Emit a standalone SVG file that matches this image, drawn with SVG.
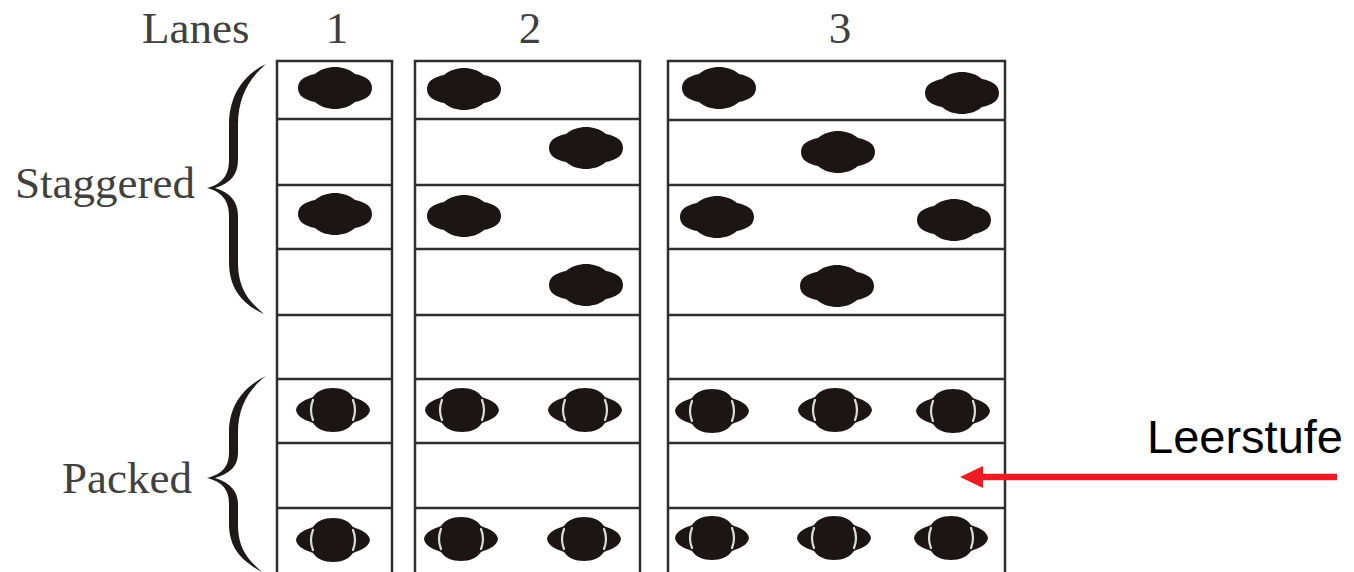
<svg xmlns="http://www.w3.org/2000/svg" width="1354" height="572" viewBox="0 0 1354 572">
<style>
.lbl{font-family:"Liberation Serif","Times New Roman",serif;font-size:45px;fill:#404040}
.grid{fill:none;stroke:#2e2e2e;stroke-width:2.5}
.blob{fill:#1b1515}
.hl{fill:none;stroke:#dcdcdc;stroke-width:2.2;stroke-linecap:round}
.brace{fill:#1e1a1a}
.red{font-family:"Liberation Sans",Arial,sans-serif;font-size:47px;fill:#000}
</style>
<defs>
<path id="sblob" class="blob" d="M -37 0 C -37 -8 -30 -12 -20 -14 C -14 -19 -7 -21 0 -21 C 7 -21 14 -19 20 -14 C 30 -12 37 -8 37 0 C 37 8 30 12 20 14 C 14 19 7 21 0 21 C -7 21 -14 19 -20 14 C -30 12 -37 8 -37 0 Z"/>
<g id="pblob">
<path class="blob" d="M -37 0 C -36 -7 -28 -10 -20 -13 C -16 -19 -9 -22 0 -22 C 9 -22 16 -19 20 -13 C 28 -10 36 -7 37 0 C 36 7 28 10 20 13 C 16 19 9 22 0 22 C -9 22 -16 19 -20 13 C -28 10 -36 7 -37 0 Z"/>
<path class="hl" d="M -20 -10 Q -24 0 -20 10 M 20 -10 Q 24 0 20 10"/>
</g>
</defs>

<g id="labels">
<text class="lbl" x="142" y="43">Lanes</text>
<text class="lbl" x="337" y="43" text-anchor="middle">1</text>
<text class="lbl" x="530" y="43" text-anchor="middle">2</text>
<text class="lbl" x="840" y="43" text-anchor="middle">3</text>
<text class="lbl" x="15" y="198">Staggered</text>
<text class="lbl" x="62" y="493">Packed</text>
</g>

<g id="brace-staggered">
<path class="brace" d="M 266 64 C 245 74 229 94 229 125 L 229 160 C 229 174 223 184 207 188 C 223 192 229 202 229 216 L 229 262 C 229 290 244 305 264 314 C 250 302 238 290 238 262 L 238 216 C 238 202 231 193 215 188 C 231 183 238 174 238 160 L 238 125 C 238 96 250 78 266 64 Z"/>
</g>
<g id="brace-packed">
<path class="brace" d="M 266 376 C 245 386 229 404 229 432 L 229 452 C 229 466 223 474 207 478 C 223 482 229 490 229 504 L 229 524 C 229 550 244 562 262 572 C 249 560 238 550 238 524 L 238 504 C 238 492 231 483 215 478 C 231 473 238 466 238 452 L 238 432 C 238 406 250 388 266 376 Z"/>
</g>

<g id="lane1">
<path class="grid" d="M 277 572 L 277 61 L 392 61 L 392 572 M 277 119 H 392 M 277 185 H 392 M 277 249 H 392 M 277 315 H 392 M 277 379 H 392 M 277 443 H 392 M 277 508 H 392"/>
<use href="#sblob" x="335" y="88"/>
<use href="#sblob" x="335" y="214"/>
<use href="#pblob" x="333" y="410"/>
<use href="#pblob" x="333" y="540"/>
</g>

<g id="lane2">
<path class="grid" d="M 415 572 L 415 61 L 640 61 L 640 572 M 415 119 H 640 M 415 185 H 640 M 415 249 H 640 M 415 315 H 640 M 415 379 H 640 M 415 443 H 640 M 415 508 H 640"/>
<use href="#sblob" x="464" y="89"/>
<use href="#sblob" x="586" y="148"/>
<use href="#sblob" x="464" y="216"/>
<use href="#sblob" x="586" y="285"/>
<use href="#pblob" x="462" y="410"/>
<use href="#pblob" x="585" y="410"/>
<use href="#pblob" x="461" y="539"/>
<use href="#pblob" x="584" y="539"/>
</g>

<g id="lane3">
<path class="grid" d="M 668 572 L 668 61 L 1005 61 L 1005 572 M 668 120 H 1005 M 668 185 H 1005 M 668 249 H 1005 M 668 315 H 1005 M 668 379 H 1005 M 668 443 H 1005 M 668 508 H 1005"/>
<use href="#sblob" x="719" y="88"/>
<use href="#sblob" x="962" y="93"/>
<use href="#sblob" x="838" y="152"/>
<use href="#sblob" x="717" y="217"/>
<use href="#sblob" x="954" y="220"/>
<use href="#sblob" x="837" y="286"/>
<use href="#pblob" x="712" y="411"/>
<use href="#pblob" x="835" y="410"/>
<use href="#pblob" x="953" y="411"/>
<use href="#pblob" x="712" y="538"/>
<use href="#pblob" x="834" y="538"/>
<use href="#pblob" x="951" y="538"/>
</g>

<g id="leerstufe">
<text class="red" x="1147" y="453">Leerstufe</text>
</g>

<g id="connectors">
<line x1="1337" y1="477" x2="982" y2="477" stroke="#ed1c24" stroke-width="6.5"/>
<path d="M 960 477 L 983 466 L 983 488 Z" fill="#ed1c24"/>
</g>
</svg>
